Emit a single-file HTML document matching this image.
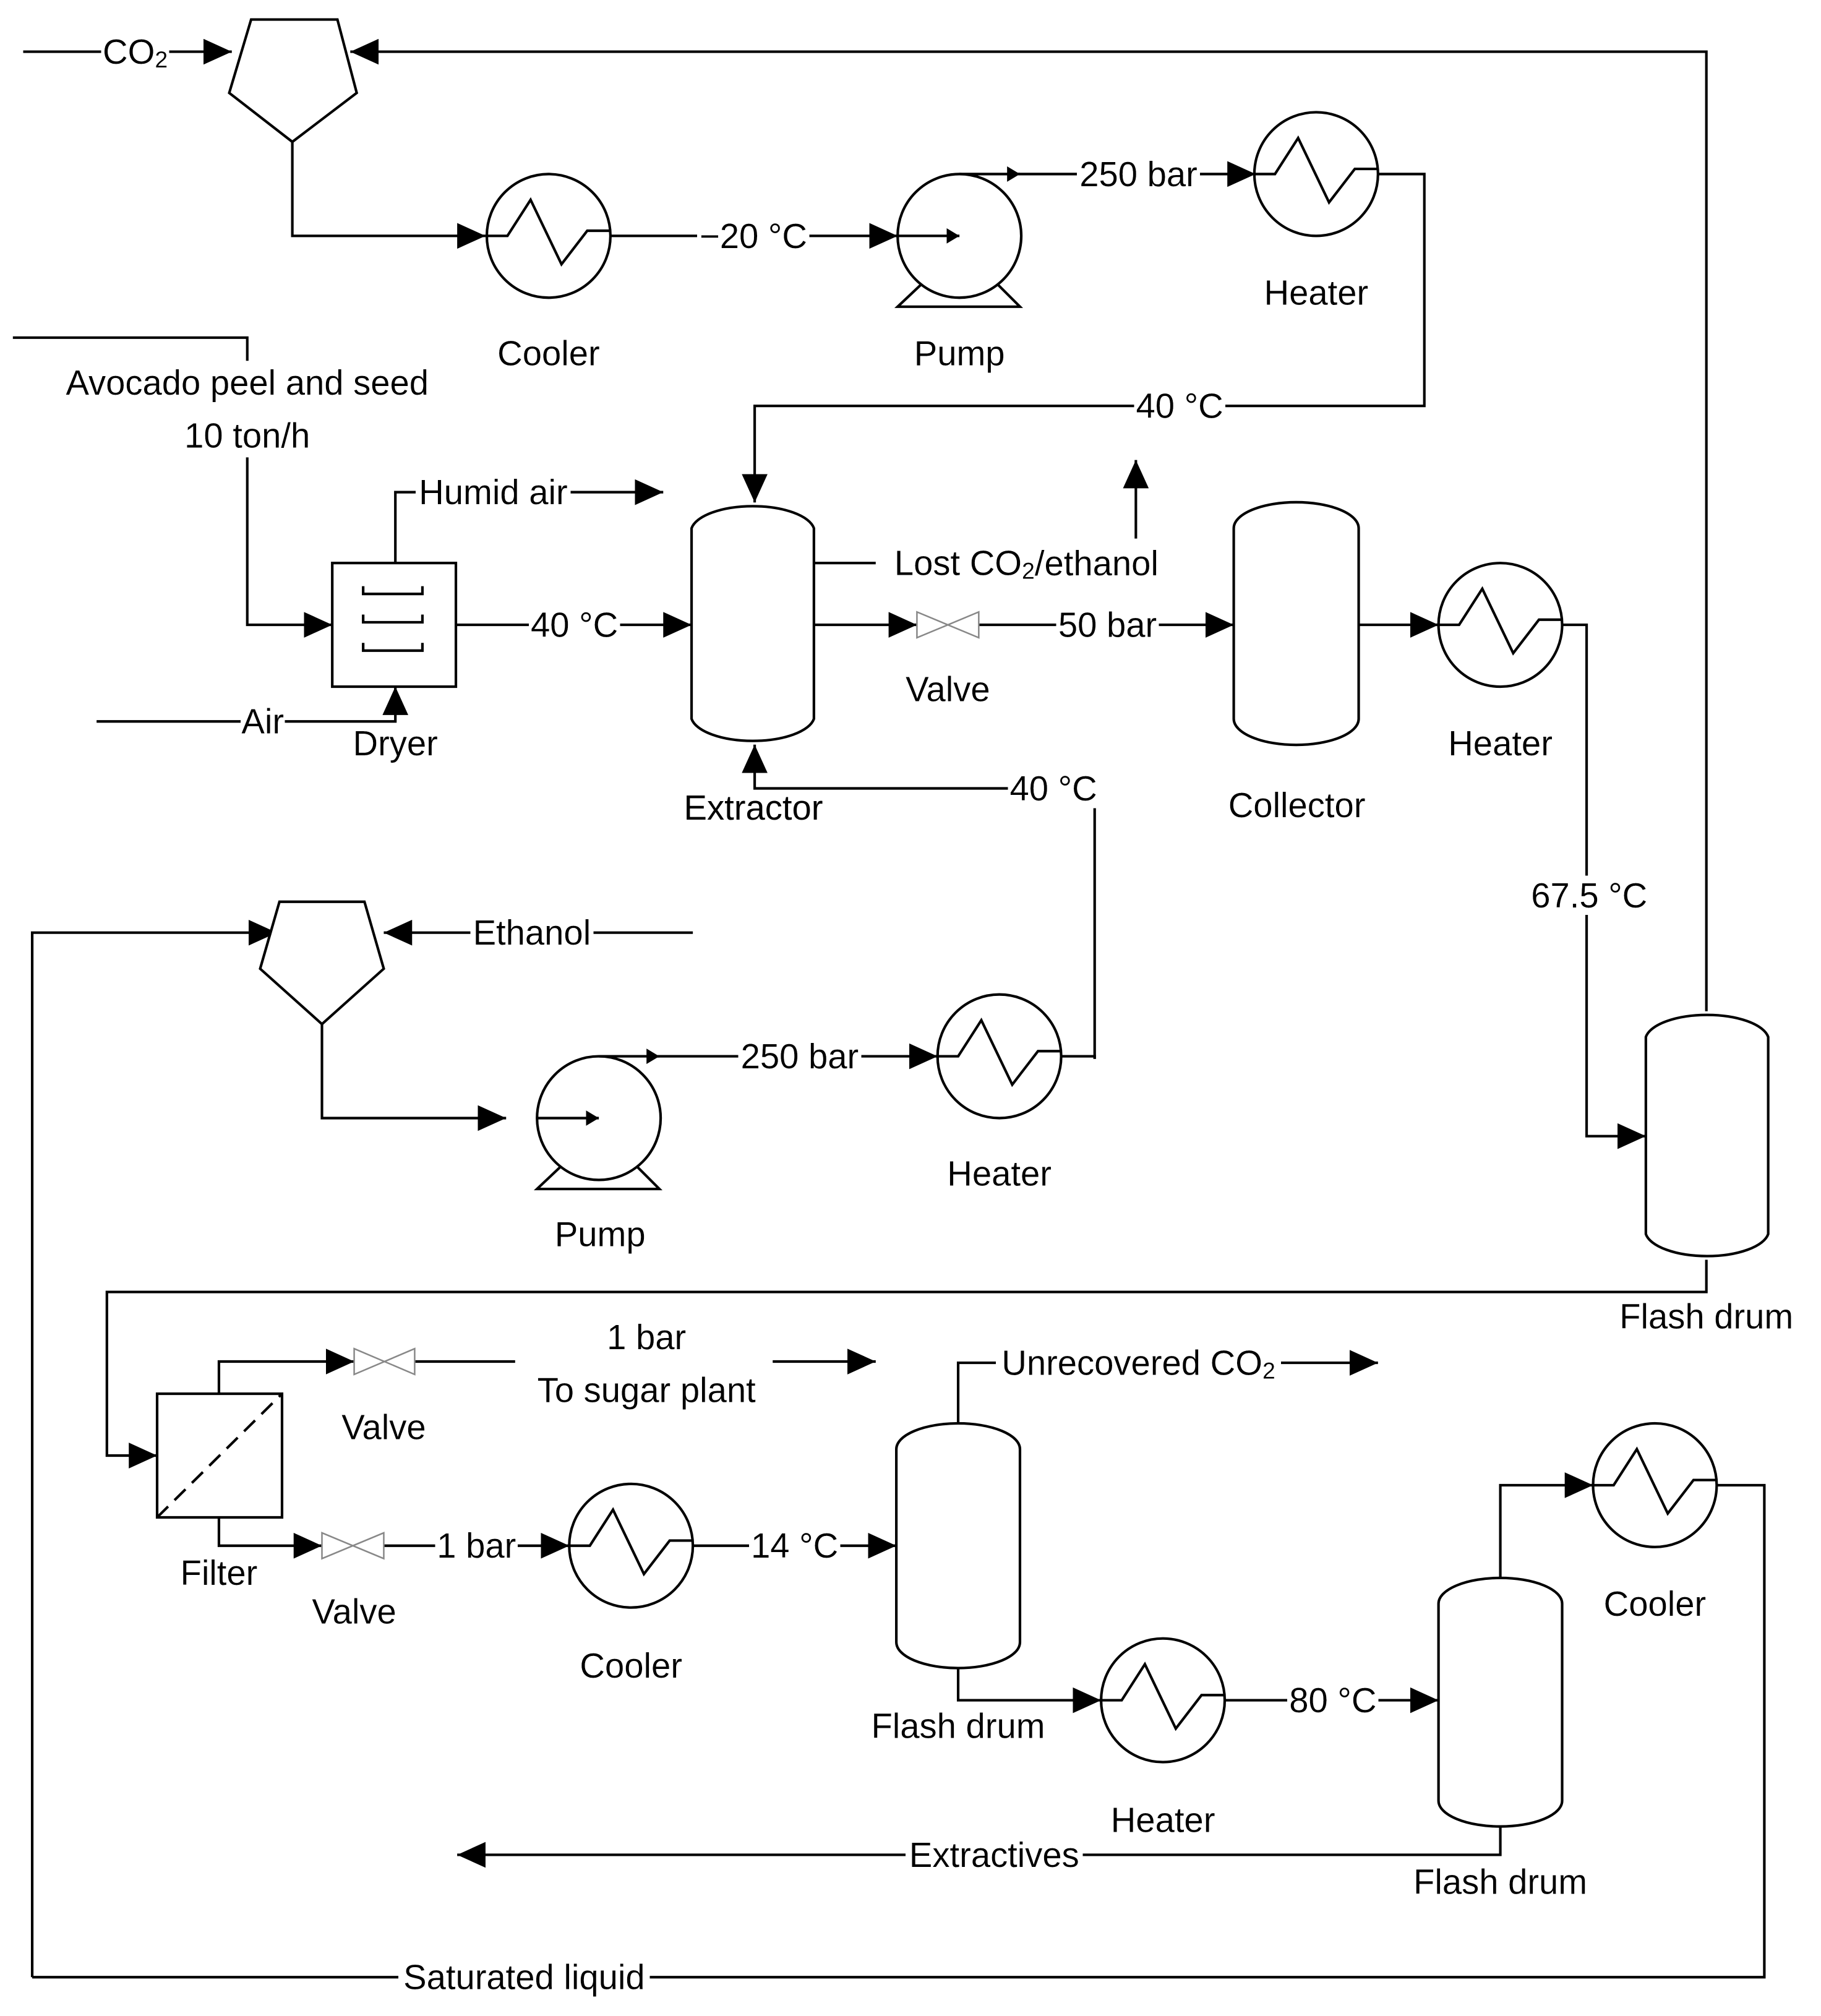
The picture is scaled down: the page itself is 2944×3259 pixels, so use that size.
<!DOCTYPE html>
<html><head><meta charset="utf-8"><style>html,body{margin:0;padding:0;background:#fff}svg{display:block}</style></head>
<body>
<svg width="2944" height="3259" viewBox="0 0 1414 1565" xmlns="http://www.w3.org/2000/svg">
<defs>
<marker id="a" markerUnits="userSpaceOnUse" markerWidth="24" markerHeight="20" refX="22" refY="10" orient="auto"><path d="M0,0 L22,10 L0,20 Z" fill="#000"/></marker>
<marker id="s" markerUnits="userSpaceOnUse" markerWidth="12" markerHeight="12" refX="10" refY="6" orient="auto"><path d="M0,0 L10,6 L0,12 Z" fill="#000"/></marker>
<filter id="bg" x="-0.02" y="0" width="1.04" height="1"><feFlood flood-color="#fff"/><feMerge><feMergeNode/><feMergeNode in="SourceGraphic"/></feMerge></filter>
</defs>
<style>
.l{fill:none;stroke:#000;stroke-width:2}
text{font-family:"Liberation Sans",sans-serif;font-size:27px;fill:#000;text-anchor:middle;dominant-baseline:central;filter:url(#bg)}
text.n{filter:none}
.v{fill:#fff;stroke:#888;stroke-width:1.2}
</style>
<g class="l">
<polyline points="18,40 180,40" marker-end="url(#a)"/>
<polygon points="195,15 262,15 277,72 227,110 178,72" fill="#fff"/>
<polyline points="1325,785 1325,40 272,40" marker-end="url(#a)"/>
<polyline points="227,110 227,183 377,183" marker-end="url(#a)"/>
<circle cx="426" cy="183" r="48" fill="#fff"/>
<path d="M378,183 H394 L412,155 L436,205 L456,179 H474"/>
<polyline points="474,183 697,183" marker-end="url(#a)"/>
<circle cx="745" cy="183" r="48" fill="#fff"/>
<polyline points="715,221 697,238 792,238 775,221"/>
<polyline points="697,183 745,183" marker-end="url(#s)"/>
<polyline points="745,135 792,135" marker-end="url(#s)"/>
<polyline points="790,135 975,135" marker-end="url(#a)"/>
<circle cx="1022" cy="135" r="48" fill="#fff"/>
<path d="M974,135 H990 L1008,107 L1032,157 L1052,131 H1070"/>
<polyline points="1070,135 1106,135 1106,315 586,315 586,390" marker-end="url(#a)"/>
<polyline points="10,262 192,262 192,280"/>
<polyline points="192,355 192,485 258,485" marker-end="url(#a)"/>
<rect x="258" y="437" width="96" height="96" fill="#fff"/>
<path d="M282,455 v6 h46 v-6 M282,477 v6 h46 v-6 M282,499 v6 h46 v-6"/>
<polyline points="307,437 307,382 515,382" marker-end="url(#a)"/>
<polyline points="75,560 307,560 307,533" marker-end="url(#a)"/>
<polyline points="354,485 537,485" marker-end="url(#a)"/>
<path d="M537,410 A48,20 0 0 1 632,410 L632,558 A48,20 0 0 1 537,558 Z" fill="#fff"/>
<polyline points="632,437 680,437"/>
<polyline points="882,418 882,357" marker-end="url(#a)"/>
<polyline points="632,485 712,485" marker-end="url(#a)"/>
<polyline points="760,485 958,485" marker-end="url(#a)"/>
<polyline points="850,822 850,612 586,612 586,578" marker-end="url(#a)"/>
<path d="M958,410 A48,20 0 0 1 1055,410 L1055,558 A48,20 0 0 1 958,558 Z" fill="#fff"/>
<polyline points="1055,485 1117,485" marker-end="url(#a)"/>
<circle cx="1165" cy="485" r="48" fill="#fff"/>
<path d="M1117,485 H1133 L1151,457 L1175,507 L1195,481 H1213"/>
<polyline points="1213,485 1232,485 1232,882 1278,882" marker-end="url(#a)"/>
<path d="M1278,805 A48,20 0 0 1 1373,805 L1373,958 A48,20 0 0 1 1278,958 Z" fill="#fff"/>
<polyline points="1325,978 1325,1003 83,1003 83,1130 122,1130" marker-end="url(#a)"/>
<polyline points="538,724 298,724" marker-end="url(#a)"/>
<polyline points="25,1535 25,724 215,724" marker-end="url(#a)"/>
<polygon points="217,700 283,700 298,752 250,795 202,752" fill="#fff"/>
<polyline points="250,795 250,868 393,868" marker-end="url(#a)"/>
<circle cx="465" cy="868" r="48" fill="#fff"/>
<polyline points="435,906 417,923 512,923 495,906"/>
<polyline points="417,868 465,868" marker-end="url(#s)"/>
<polyline points="465,820 512,820" marker-end="url(#s)"/>
<polyline points="510,820 728,820" marker-end="url(#a)"/>
<circle cx="776" cy="820" r="48" fill="#fff"/>
<path d="M728,820 H744 L762,792 L786,842 L806,816 H824"/>
<polyline points="824,820 850,820 850,822"/>
<rect x="122" y="1082" width="97" height="96" fill="#fff"/>
<line x1="122" y1="1178" x2="219" y2="1082" stroke-dasharray="12,7"/>
<polyline points="170,1082 170,1057 275,1057" marker-end="url(#a)"/>
<polyline points="322,1057 400,1057"/>
<polyline points="600,1057 680,1057" marker-end="url(#a)"/>
<polyline points="170,1178 170,1200 250,1200" marker-end="url(#a)"/>
<polyline points="298,1200 442,1200" marker-end="url(#a)"/>
<circle cx="490" cy="1200" r="48" fill="#fff"/>
<path d="M442,1200 H458 L476,1172 L500,1222 L520,1196 H538"/>
<polyline points="538,1200 696,1200" marker-end="url(#a)"/>
<path d="M696,1125 A48,20 0 0 1 792,1125 L792,1275 A48,20 0 0 1 696,1275 Z" fill="#fff"/>
<polyline points="744,1105 744,1058 1070,1058" marker-end="url(#a)"/>
<polyline points="744,1295 744,1320 855,1320" marker-end="url(#a)"/>
<circle cx="903" cy="1320" r="48" fill="#fff"/>
<path d="M855,1320 H871 L889,1292 L913,1342 L933,1316 H951"/>
<polyline points="951,1320 1117,1320" marker-end="url(#a)"/>
<path d="M1117,1245 A48,20 0 0 1 1213,1245 L1213,1398 A48,20 0 0 1 1117,1398 Z" fill="#fff"/>
<polyline points="1165,1225 1165,1153 1237,1153" marker-end="url(#a)"/>
<circle cx="1285" cy="1153" r="48" fill="#fff"/>
<path d="M1237,1153 H1253 L1271,1125 L1295,1175 L1315,1149 H1333"/>
<polyline points="1333,1153 1370,1153 1370,1535 25,1535"/>
<polyline points="1165,1418 1165,1440 355,1440" marker-end="url(#a)"/>
</g>
<polygon class="v" points="712,475 760,495 760,475 712,495"/>
<polygon class="v" points="275,1047 322,1067 322,1047 275,1067"/>
<polygon class="v" points="250,1190 298,1210 298,1190 250,1210"/>
<text x="105" y="40">CO<tspan font-size="18" dy="6">2</tspan></text>
<text x="585" y="183">−20 °C</text>
<text x="884" y="135">250 bar</text>
<text x="1022" y="227">Heater</text>
<text x="426" y="274">Cooler</text>
<text x="745" y="274">Pump</text>
<text x="192" y="297">Avocado peel and seed</text>
<text x="192" y="338">10 ton/h</text>
<text x="916" y="315">40 °C</text>
<text x="383" y="382">Humid air</text>
<text x="797" y="437">Lost CO<tspan font-size="18" dy="6">2</tspan><tspan dy="-6">/ethanol</tspan></text>
<text x="446" y="485">40 °C</text>
<text x="860" y="485">50 bar</text>
<text x="736" y="535">Valve</text>
<text x="204" y="560">Air</text>
<text x="307" y="577">Dryer</text>
<text x="1165" y="577">Heater</text>
<text x="818" y="612">40 °C</text>
<text class="n" x="585" y="627">Extractor</text>
<text x="1007" y="625">Collector</text>
<text x="1234" y="695">67.5 °C</text>
<text x="413" y="724">Ethanol</text>
<text x="621" y="820">250 bar</text>
<text x="776" y="911">Heater</text>
<text x="466" y="958">Pump</text>
<text x="1325" y="1022">Flash drum</text>
<text x="502" y="1038">1 bar</text>
<text x="502" y="1079">To sugar plant</text>
<text x="884" y="1058">Unrecovered CO<tspan font-size="18" dy="6">2</tspan></text>
<text x="298" y="1108">Valve</text>
<text x="370" y="1200">1 bar</text>
<text x="617" y="1200">14 °C</text>
<text x="170" y="1221">Filter</text>
<text x="1285" y="1245">Cooler</text>
<text x="275" y="1251">Valve</text>
<text x="490" y="1293">Cooler</text>
<text x="1035" y="1320">80 °C</text>
<text x="744" y="1340">Flash drum</text>
<text x="903" y="1413">Heater</text>
<text x="772" y="1440">Extractives</text>
<text x="1165" y="1461">Flash drum</text>
<text x="407" y="1535">Saturated liquid</text>
</svg>
</body></html>
